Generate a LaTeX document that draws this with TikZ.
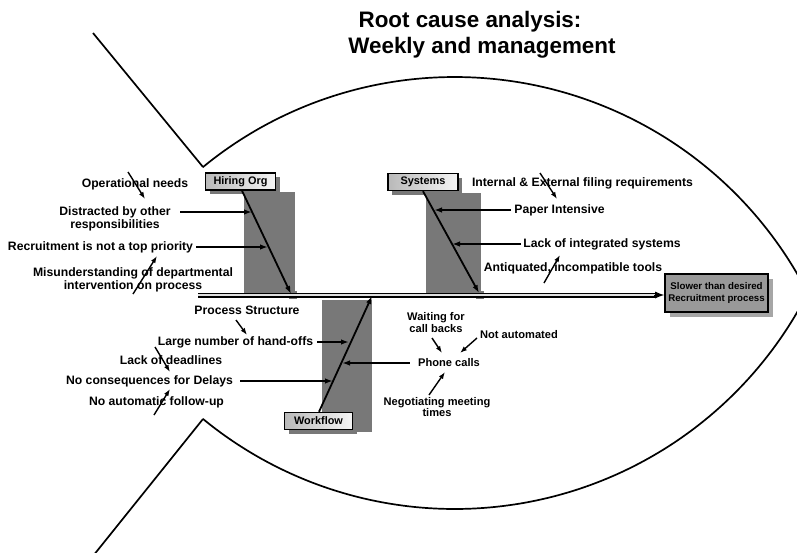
\documentclass[tikz,border=0pt]{standalone}
\usepackage{fontspec}
\setmainfont{Liberation Sans}
\usetikzlibrary{arrows.meta,calc,shadows}
\definecolor{slabgray}{gray}{0.47}
\definecolor{effectgray}{gray}{0.60}
\definecolor{spinefill}{gray}{0.88}
\begin{document}
\begin{tikzpicture}[x=1pt,y=-1pt,
  every node/.style={inner sep=0pt, align=center},
  txt/.style={font=\bfseries\fontsize{12.2}{13}\selectfont},
  smalltxt/.style={font=\bfseries\fontsize{11.1}{11.6}\selectfont},
  titletxt/.style={font=\bfseries\fontsize{22.4}{26}\selectfont},
  outline/.style={line width=1.7pt, line join=round},
  bone/.style={line width=1.8pt, -{Latex[length=8pt,width=5.5pt]}},
  cause/.style={line width=1.8pt, -{Latex[length=8pt,width=5.5pt]}},
  hint/.style={line width=1.4pt, -{Latex[length=7pt,width=5pt]}},
  catbox/.style={draw=black, line width=1.4pt, left color=gray!55, right color=gray!8,
    minimum height=17pt, font=\bfseries\fontsize{10.9}{12}\selectfont,
    drop shadow={shadow xshift=4pt, shadow yshift=-4pt, fill=slabgray, opacity=1}},
  effectbox/.style={draw=black, line width=1.6pt, fill=effectgray,
    minimum width=103pt, minimum height=38pt, font=\bfseries\fontsize{9.7}{11.5}\selectfont,
    drop shadow={shadow xshift=5pt, shadow yshift=-5pt, fill=gray!70, opacity=1}}
]
\useasboundingbox (0,0) rectangle (797,552);

% fish outline: tail strokes and the two body arcs meeting at the head
\coordinate (tailtop) at (93,33);
\coordinate (mouthtop) at (203,167);
\coordinate (mouthbot) at (203,419);
\coordinate (tailbot) at (93,556);
\draw[outline] (tailtop) -- (mouthtop);
\draw[outline] (mouthbot) -- (tailbot);
\draw[outline] plot[domain=230.6:332.9, samples=90, smooth] ({454.6+396.6*cos(\x)}, {473.6+396.6*sin(\x)});
\draw[outline] plot[domain=27.1:129.4, samples=90, smooth] ({454.6+396.6*cos(\x)}, {112.4+396.6*sin(\x)});

% title
\node[titletxt] (title1) at (470,22) {Root cause analysis:};
\node[titletxt] (title2) at (482,48) {Weekly and management};

% grey slabs behind the three bones
\fill[slabgray] (244,192) rectangle (295,294);
\fill[slabgray] (289,291) rectangle (297,299);
\fill[slabgray] (426,193) rectangle (481,294);
\fill[slabgray] (476,291) rectangle (484,299);
\fill[slabgray] (322,300) rectangle (372,432);

% category labels
\node[catbox, minimum width=70pt] (hiring) at (240.5,181.5) {Hiring Org};
\node[catbox, minimum width=70pt] (systems) at (423,182) {Systems};
\node[catbox, minimum width=68pt] (workflow) at (318.5,421) {Workflow};

% effect
\node[effectbox] (effect) at (716.5,293) {Slower than desired\\Recruitment process};

% spine
\coordinate (spinestart) at (198,295);
\draw[black, line width=1.3pt, double=spinefill, double distance=2.4pt]
  (spinestart) -- ([xshift=-8pt]effect.west |- spinestart);
\draw[line width=1pt, -{Latex[length=9pt,width=7pt]}]
  ([xshift=-10pt]effect.west |- spinestart) -- (effect.west |- spinestart);

% bones
\coordinate (htip) at (291,294);
\coordinate (stip) at (479,293);
\coordinate (wtip) at (372,296);
\draw[bone] ([xshift=1.5pt]hiring.south) -- (htip);
\draw[bone] (systems.south) -- (stip);
\draw[bone] ([xshift=0.5pt]workflow.north) -- (wtip);

% Hiring Org causes
\node[txt] (opneeds) at (135,184) {Operational needs};
\node[txt] (distract) at (115,218.5) {Distracted by other\\responsibilities};
\node[txt] (priority) at (100.5,247) {Recruitment is not a top priority};
\node[txt] (misunder) at (133,280) {Misunderstanding of departmental\\intervention on process};
\coordinate (h1) at (252,212);
\coordinate (h2) at (268,247);
\draw[cause] (180,212) -- (h1);
\draw[cause] (priority.east |- h2) ++(3,0) -- (h2);
\coordinate (opA) at (128,172);
\coordinate (opB) at (145,199);
\draw[hint] (opA) -- (opB);
\coordinate (miA) at (133,294);
\coordinate (miB) at (157,256);
\draw[hint] (miA) -- (miB);

% Systems causes
\node[txt] (filing) at (582.5,183) {Internal \& External filing requirements};
\node[txt] (paper) at (559.5,210) {Paper Intensive};
\node[txt] (integr) at (602,244) {Lack of integrated systems};
\node[txt] (antiq) at (573,268) {Antiquated, incompatible tools};
\coordinate (s1) at (434,210);
\coordinate (s2) at (452,244);
\draw[cause] ([xshift=-3pt]paper.west |- s1) -- (s1);
\draw[cause] ([xshift=-2pt]integr.west |- s2) -- (s2);
\coordinate (fiA) at (540,173);
\coordinate (fiB) at (557,199);
\draw[hint] (fiA) -- (fiB);
\coordinate (anA) at (544,283);
\coordinate (anB) at (560,255);
\draw[hint] (anA) -- (anB);

% Workflow causes
\node[txt] (procstruct) at (247,310) {Process Structure};
\node[txt] (handoffs) at (235.5,342) {Large number of hand-offs};
\node[txt] (deadlines) at (171,360) {Lack of deadlines};
\node[txt] (delays) at (149.5,381) {No consequences for Delays};
\node[txt] (followup) at (156.5,402) {No automatic follow-up};
\coordinate (w1) at (349,342);
\coordinate (w2) at (333,381);
\coordinate (w3) at (342,363);
\draw[cause] ([xshift=4pt]handoffs.east |- w1) -- (w1);
\draw[cause] (240,381) -- (w2);
\coordinate (psA) at (236,320);
\coordinate (psB) at (247,335);
\draw[hint] (psA) -- (psB);
\coordinate (dlA) at (155,347);
\coordinate (dlB) at (170,372);
\draw[hint] (dlA) -- (dlB);
\coordinate (fuA) at (154,415);
\coordinate (fuB) at (170,389);
\draw[hint] (fuA) -- (fuB);

% phone calls cluster
\node[smalltxt] (phone) at (449,363) {Phone calls};
\node[smalltxt] (waiting) at (436,322.5) {Waiting for\\call backs};
\node[smalltxt] (notauto) at (519,335) {Not automated};
\node[smalltxt] (negot) at (437,407) {Negotiating meeting\\times};
\draw[cause] ([xshift=-8pt]phone.west |- w3) -- (w3);
\coordinate (waA) at (432,338);
\coordinate (waB) at (442,353);
\draw[hint] (waA) -- (waB);
\coordinate (naA) at (477,338);
\coordinate (naB) at (460,353);
\draw[hint] (naA) -- (naB);
\coordinate (neA) at (429,395);
\coordinate (neB) at (445,372);
\draw[hint] (neA) -- (neB);
\end{tikzpicture}
\end{document}
